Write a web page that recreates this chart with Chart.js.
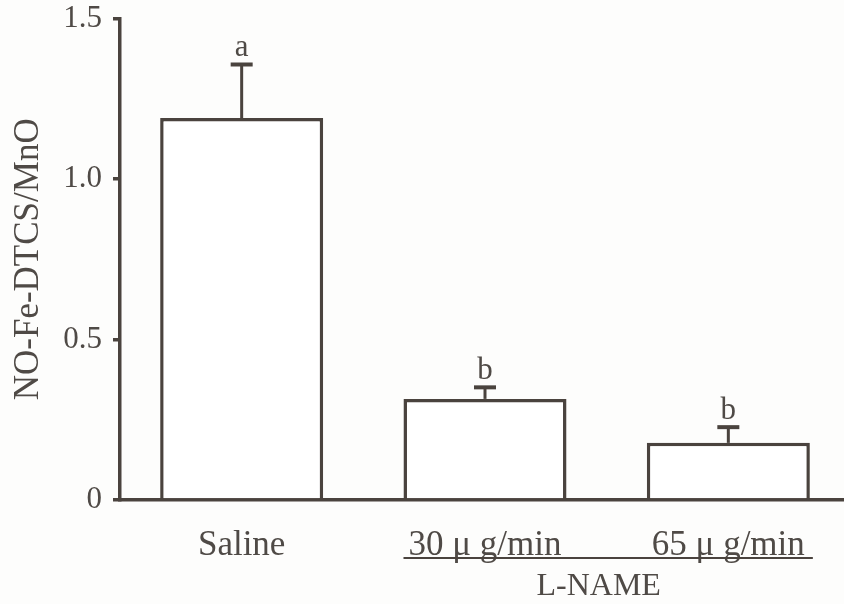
<!DOCTYPE html>
<html>

<head>
  <meta name="viewport" content="width=device-width,initial-scale=1.0">
  <title>NO-Fe-DTCS/MnO</title>
  <style>
    html, body {
      margin: 0;
      padding: 0;
      background: #fdfdfc;
      overflow: hidden;
    }

    .wrap {
      width: 844px;
      height: 604px;
      overflow: hidden;
    }

    #bar-chart {
      display: block;
      margin-top: -11px;
    }
  </style>
</head>

<body>
  <div class="wrap">
    <canvas id="bar-chart" width="850" height="615"></canvas>
  </div>

  <script src="https://cdn.jsdelivr.net/npm/chart.js"></script>

  <script>
    const categories = ['Saline', '30 \u03bc g/min', '65 \u03bc g/min'];
    const means = [1.19, 0.315, 0.178];
    const errors = [0.167, 0.036, 0.049];
    const letters = ['a', 'b', 'b'];
    const yTicks = [0, 0.5, 1.0, 1.5];
    const groupLabel = 'L-NAME';

    const ink = '#4a433e';
    const textInk = '#4f4a46';
    const serif = "'Liberation Serif', 'DejaVu Serif', serif";

    // error bars, letters and the L-NAME bracket
    const extras = {
      id: 'extras',
      afterDatasetsDraw(chart) {
        const { ctx, chartArea, scales: { x, y } } = chart;
        ctx.save();
        ctx.strokeStyle = ink;
        ctx.fillStyle = textInk;
        means.forEach((m, i) => {
          const cx = x.getPixelForValue(i);
          const top = y.getPixelForValue(m + errors[i]);
          ctx.lineWidth = 3;
          ctx.beginPath();
          ctx.moveTo(cx, y.getPixelForValue(m));
          ctx.lineTo(cx, top);
          ctx.stroke();
          ctx.lineWidth = 4;
          ctx.beginPath();
          ctx.moveTo(cx - 11, top);
          ctx.lineTo(cx + 11, top);
          ctx.stroke();
          ctx.font = '31px ' + serif;
          ctx.textAlign = 'center';
          ctx.textBaseline = 'alphabetic';
          ctx.fillText(letters[i], cx, top - 8);
        });

        const meta = chart.getDatasetMeta(0);
        const b1 = meta.data[1], b2 = meta.data[2];
        const x1 = b1.x - b1.width / 2;
        const x2 = b2.x + b2.width / 2 + 3;
        const lineY = chartArea.bottom + 58;
        ctx.lineWidth = 2;
        ctx.beginPath();
        ctx.moveTo(x1, lineY);
        ctx.lineTo(x2, lineY);
        ctx.stroke();
        ctx.font = '32px ' + serif;
        ctx.textAlign = 'center';
        ctx.textBaseline = 'middle';
        ctx.fillText(groupLabel, (b1.x + b2.x) / 2 - 8, chartArea.bottom + 87);
        ctx.restore();
      }
    };

    new Chart(document.getElementById('bar-chart'), {
      type: 'bar',
      data: {
        labels: categories,
        datasets: [{
          data: means,
          backgroundColor: '#ffffff',
          borderColor: ink,
          borderWidth: 3.5,
          categoryPercentage: 1,
          barPercentage: 0.67
        }]
      },
      options: {
        responsive: false,
        animation: false,
        layout: { padding: { top: 6, right: 0, left: 0, bottom: 0 } },
        plugins: {
          legend: { display: false },
          tooltip: { enabled: false }
        },
        scales: {
          x: {
            grid: { display: false },
            border: { display: true, color: ink, width: 3.5 },
            ticks: {
              color: textInk,
              font: { family: serif, size: 35 },
              padding: 17,
              maxRotation: 0
            },
            afterFit(scale) { scale.height = 104; }
          },
          y: {
            min: 0,
            max: 1.5,
            afterBuildTicks(scale) {
              scale.ticks = yTicks.map(v => ({ value: v }));
            },
            grid: {
              drawOnChartArea: false,
              drawTicks: true,
              tickLength: 7,
              lineWidth: 3.5,
              color: ink
            },
            border: { display: true, color: ink, width: 3.5 },
            ticks: {
              color: textInk,
              font: { family: serif, size: 31 },
              padding: 11,
              callback: v => (v === 0 ? '0' : v.toFixed(1))
            },
            title: {
              display: true,
              text: 'NO-Fe-DTCS/MnO',
              color: textInk,
              font: { family: serif, size: 35 },
              padding: { top: 8, bottom: 0 }
            },
            afterFit(scale) { scale.width = 120; }
          }
        }
      },
      plugins: [extras]
    });
  </script>
</body>

</html>
